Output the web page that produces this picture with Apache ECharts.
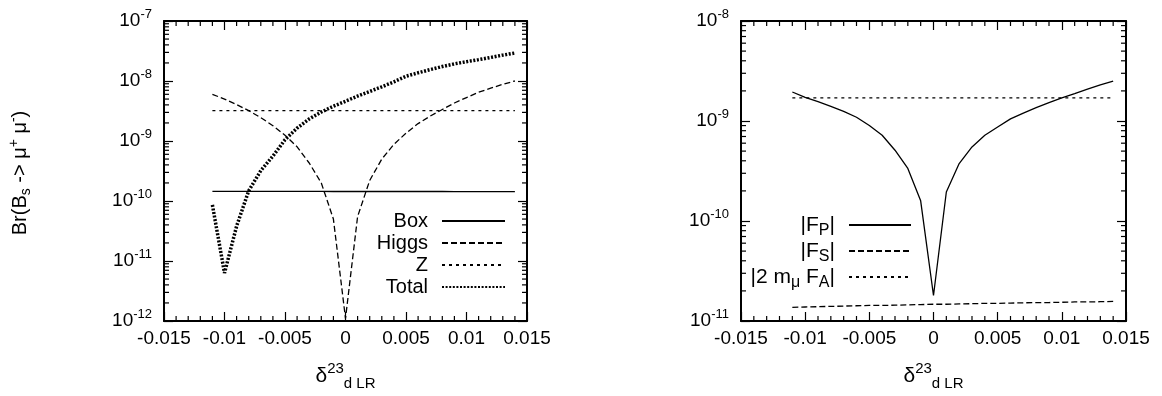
<!DOCTYPE html>
<html><head><meta charset="utf-8">
<script src="https://cdn.jsdelivr.net/npm/echarts@6/dist/echarts.min.js"></script>
<style>html,body{margin:0;padding:0;background:#fff}#c{width:1162px;height:396px}</style>
</head><body><div id="c"></div>
<script>
// ---------- data ----------
const xs = [-0.011, -0.010, -0.009, -0.008, -0.007, -0.006, -0.005, -0.004, -0.003, -0.002, -0.001, 0,
            0.001, 0.002, 0.003, 0.004, 0.005, 0.006, 0.007, 0.008, 0.009, 0.010, 0.011, 0.012, 0.013, 0.014];

// left panel: Br(Bs -> mu+ mu-)
const boxVals = [1.45e-10, 1.45e-10, 1.45e-10, 1.45e-10, 1.45e-10, 1.45e-10, 1.45e-10, 1.45e-10, 1.45e-10, 1.45e-10, 1.44e-10, 1.44e-10,
                 1.44e-10, 1.44e-10, 1.44e-10, 1.44e-10, 1.44e-10, 1.44e-10, 1.44e-10, 1.44e-10, 1.43e-10, 1.43e-10, 1.43e-10, 1.43e-10, 1.43e-10, 1.43e-10];
const higgsVals = [6.0e-9, 5.0e-9, 4.05e-9, 3.2e-9, 2.45e-9, 1.8e-9, 1.25e-9, 8.0e-10, 4.3e-10, 2.0e-10, 5.0e-11, 1.1e-12,
                   5.5e-11, 2.2e-10, 5.0e-10, 8.8e-10, 1.35e-9, 1.95e-9, 2.6e-9, 3.35e-9, 4.3e-9, 5.3e-9, 6.5e-9, 7.6e-9, 8.8e-9, 1.0e-8];
const zVals = [3.2e-9, 3.2e-9, 3.2e-9, 3.2e-9, 3.2e-9, 3.2e-9, 3.2e-9, 3.2e-9, 3.2e-9, 3.2e-9, 3.2e-9, 3.2e-9,
               3.2e-9, 3.2e-9, 3.2e-9, 3.2e-9, 3.2e-9, 3.2e-9, 3.2e-9, 3.2e-9, 3.2e-9, 3.2e-9, 3.2e-9, 3.2e-9, 3.2e-9, 3.2e-9];
const totalVals = [8.6e-11, 6.3e-12, 3.8e-11, 1.48e-10, 3.2e-10, 5.6e-10, 1.05e-9, 1.64e-9, 2.33e-9, 3.04e-9, 3.8e-9, 4.6e-9,
                   5.6e-9, 6.7e-9, 8.0e-9, 9.7e-9, 1.2e-8, 1.37e-8, 1.55e-8, 1.74e-8, 1.93e-8, 2.1e-8, 2.27e-8, 2.47e-8, 2.7e-8, 2.93e-8];

// right panel: form factors
const fpVals = [1.95e-9, 1.72e-9, 1.56e-9, 1.4e-9, 1.25e-9, 1.09e-9, 9.0e-10, 7.2e-10, 5.1e-10, 3.35e-10, 1.59e-10, 1.8e-11,
                1.95e-10, 3.75e-10, 5.5e-10, 7.2e-10, 8.7e-10, 1.05e-9, 1.2e-9, 1.36e-9, 1.53e-9, 1.7e-9, 1.88e-9, 2.08e-9, 2.3e-9, 2.5e-9];
const fsVals = [1.37e-11, 1.38e-11, 1.39e-11, 1.40e-11, 1.41e-11, 1.42e-11, 1.43e-11, 1.43e-11, 1.44e-11, 1.45e-11, 1.46e-11, 1.47e-11,
                1.47e-11, 1.48e-11, 1.49e-11, 1.50e-11, 1.50e-11, 1.51e-11, 1.52e-11, 1.53e-11, 1.53e-11, 1.54e-11, 1.55e-11, 1.55e-11, 1.56e-11, 1.57e-11];
const faVals = [1.7e-9, 1.7e-9, 1.7e-9, 1.7e-9, 1.7e-9, 1.7e-9, 1.7e-9, 1.7e-9, 1.7e-9, 1.7e-9, 1.7e-9, 1.7e-9,
                1.7e-9, 1.7e-9, 1.7e-9, 1.7e-9, 1.7e-9, 1.7e-9, 1.7e-9, 1.7e-9, 1.7e-9, 1.7e-9, 1.7e-9, 1.7e-9, 1.7e-9, 1.7e-9];

const leftNames = ['Box', 'Higgs', 'Z', 'Total'];
const rightNames = ['|FP|', '|FS|', '|2 mμ FA|'];
const rightLabels = ['{t||F}{u|P}{t||}', '{t||F}{u|S}{t||}', '{t||2 m}{u|μ}{t| F}{u|A}{t||}'];
const xRange = [-0.015, 0.015];
const xMinorStep = 0.001;
const leftExp = [-12, -7];
const rightExp = [-11, -8];

// ---------- helpers ----------
const F = "'Liberation Sans', Arial, Helvetica, sans-serif";
const pair = arr => xs.map((x, i) => [x, arr[i]]);

// log-axis minor tick positions (2..9 x 10^e)
function logMinor(e0, e1) {
  const out = [];
  for (let e = e0; e < e1; e++) for (let k = 2; k <= 9; k++) out.push([xRange[0], k * Math.pow(10, e)]);
  return out;
}
// x-axis minor tick positions (every 0.001, skipping majors)
function xMinor(yv) {
  const out = [];
  const n = Math.round((xRange[1] - xRange[0]) / xMinorStep);
  for (let i = 1; i < n; i++) { if (i % 5 !== 0) out.push([xRange[0] + i * xMinorStep, yv]); }
  return out;
}

const supRich = {
  b: { fontSize: 19, lineHeight: 26, fontFamily: F, color: '#000' },
  s: { fontSize: 13, lineHeight: 13, verticalAlign: 'top', fontFamily: F, color: '#000' }
};

function xAxes(grid) {
  const common = {
    type: 'value', gridIndex: grid, min: xRange[0], max: xRange[1], interval: 0.005,
    axisLine: { show: true, onZero: false, lineStyle: { color: '#000', width: 2 } },
    axisTick: { show: true, inside: true, length: 9, lineStyle: { color: '#000', width: 1.2 } },
    minorTick: { show: false },
    splitLine: { show: false }, minorSplitLine: { show: false }
  };
  return [
    Object.assign({}, common, {
      position: 'bottom',
      axisLabel: { margin: 8, fontSize: 19, fontFamily: F, color: '#000',
        formatter: v => String(parseFloat(v.toFixed(4))) },
      name: '{d|δ}{p|23}{q|d LR}', nameLocation: 'middle', nameGap: 40,
      nameTextStyle: { rich: {
        d: { fontSize: 21, lineHeight: 30, fontFamily: F, color: '#000' },
        p: { fontSize: 15, lineHeight: 15, verticalAlign: 'top', fontFamily: F, color: '#000' },
        q: { fontSize: 15, lineHeight: 15, verticalAlign: 'bottom', fontFamily: F, color: '#000' }
      } }
    }),
    Object.assign({}, common, { position: 'top', axisLabel: { show: false } })
  ];
}

function yAxes(grid, exps) {
  const common = {
    type: 'log', logBase: 10, gridIndex: grid,
    min: Math.pow(10, exps[0]), max: Math.pow(10, exps[1]), splitNumber: exps[1] - exps[0],
    axisLine: { show: true, onZero: false, lineStyle: { color: '#000', width: 2 } },
    axisTick: { show: true, inside: true, length: 9, lineStyle: { color: '#000', width: 1.2 } },
    minorTick: { show: false }, splitLine: { show: false }
  };
  return [
    Object.assign({}, common, {
      position: 'left',
      axisLabel: { margin: 12, showMinLabel: true, showMaxLabel: true,
        formatter: v => '{b|10}{s|' + Math.round(Math.log10(v)) + '}', rich: supRich }
    }),
    Object.assign({}, common, { position: 'right', axisLabel: { show: false } })
  ];
}

// minor ticks on the left and right frame edges (y, log positions)
function yMinorSeries(xi, yi, data) {
  return {
    type: 'custom', coordinateSystem: 'cartesian2d', xAxisIndex: xi, yAxisIndex: yi,
    silent: true, clip: false, z: 5, encode: { x: 0, y: 1 },
    data: data,
    renderItem: function (params, api) {
      const v = api.value(1);
      const a = api.coord([xRange[0], v]);
      const b = api.coord([xRange[1], v]);
      return { type: 'group', children: [
        { type: 'line', shape: { x1: a[0], y1: a[1], x2: a[0] + 5, y2: a[1] }, style: { stroke: '#000', lineWidth: 1.2 } },
        { type: 'line', shape: { x1: b[0], y1: b[1], x2: b[0] - 5, y2: b[1] }, style: { stroke: '#000', lineWidth: 1.2 } }
      ] };
    }
  };
}
// minor ticks on the bottom and top frame edges (x positions)
function xMinorSeries(xi, yi, data, exps) {
  return {
    type: 'custom', coordinateSystem: 'cartesian2d', xAxisIndex: xi, yAxisIndex: yi,
    silent: true, clip: false, z: 5, encode: { x: 0, y: 1 },
    data: data,
    renderItem: function (params, api) {
      const x = api.value(0);
      const a = api.coord([x, Math.pow(10, exps[0])]);
      const b = api.coord([x, Math.pow(10, exps[1])]);
      return { type: 'group', children: [
        { type: 'line', shape: { x1: a[0], y1: a[1], x2: a[0], y2: a[1] - 5 }, style: { stroke: '#000', lineWidth: 1.2 } },
        { type: 'line', shape: { x1: b[0], y1: b[1], x2: b[0], y2: b[1] + 5 }, style: { stroke: '#000', lineWidth: 1.2 } }
      ] };
    }
  };
}

function lineSeries(name, xi, yi, arr, width, type) {
  return {
    name: name, type: 'line', xAxisIndex: xi, yAxisIndex: yi, data: pair(arr),
    symbol: 'none', smooth: false, animation: false,
    lineStyle: { color: '#000', width: width, type: type, cap: 'butt' },
    itemStyle: { color: '#000' }
  };
}

const legendCommon = {
  orient: 'vertical', align: 'right', padding: 0, selectedMode: false, itemHeight: 12,
  itemStyle: { color: 'rgba(0,0,0,0)', borderWidth: 0, opacity: 0 }
};

const chart = echarts.init(document.getElementById('c'));
chart.setOption({
  animation: false,
  backgroundColor: '#fff',
  grid: [
    { left: 164, top: 21, width: 363, height: 302 },
    { left: 741, top: 21, width: 385, height: 302 }
  ],
  xAxis: xAxes(0).concat(xAxes(1)),
  yAxis: yAxes(0, leftExp).concat(yAxes(1, rightExp)),
  legend: [
    Object.assign({}, legendCommon, {
      data: leftNames, right: 1162 - 506, top: 210, itemWidth: 63, itemGap: 0,
      textStyle: { fontSize: 20, fontFamily: F, color: '#000', lineHeight: 22, padding: [0, 9, 0, 0] }
    }),
    Object.assign({}, legendCommon, {
      data: rightNames, right: 1162 - 912, top: 212, itemWidth: 62, itemGap: -1,
      formatter: name => rightLabels[rightNames.indexOf(name)],
      textStyle: { fontSize: 20, fontFamily: F, color: '#000', padding: [0, 9, 0, 0],
        rich: {
          t: { fontSize: 21, lineHeight: 26, fontFamily: F, color: '#000' },
          u: { fontSize: 16, lineHeight: 10, verticalAlign: 'top', padding: [11, 0, 0, 0], fontFamily: F, color: '#000' }
        } }
    })
  ],
  graphic: [{
    type: 'text', x: 20, y: 173, rotation: Math.PI / 2,
    style: {
      text: '{b|Br(B}{d|s}{b| -> μ}{p|+}{b| μ}{p|-}{b|)}',
      align: 'center', verticalAlign: 'middle',
      rich: {
        b: { fontSize: 20, lineHeight: 26, fontFamily: F, fill: '#000', color: '#000' },
        p: { fontSize: 14, lineHeight: 14, verticalAlign: 'top', fontFamily: F, fill: '#000', color: '#000' },
        d: { fontSize: 14, lineHeight: 14, verticalAlign: 'bottom', fontFamily: F, fill: '#000', color: '#000' }
      }
    }
  }],
  series: [
    lineSeries('Box', 0, 0, boxVals, 1.3, 'solid'),
    lineSeries('Higgs', 0, 0, higgsVals, 1.3, [6, 3]),
    lineSeries('Z', 0, 0, zVals, 1.3, [3, 4]),
    lineSeries('Total', 0, 0, totalVals, 3.5, [2, 1.6]),
    lineSeries('|FP|', 2, 2, fpVals, 1.3, 'solid'),
    lineSeries('|FS|', 2, 2, fsVals, 1.3, [6, 3]),
    lineSeries('|2 mμ FA|', 2, 2, faVals, 1.3, [3, 4]),
    yMinorSeries(0, 0, logMinor(leftExp[0], leftExp[1])),
    yMinorSeries(2, 2, logMinor(rightExp[0], rightExp[1])),
    xMinorSeries(0, 0, xMinor(Math.pow(10, leftExp[0])), leftExp),
    xMinorSeries(2, 2, xMinor(Math.pow(10, rightExp[0])), rightExp)
  ]
});
</script></body></html>
